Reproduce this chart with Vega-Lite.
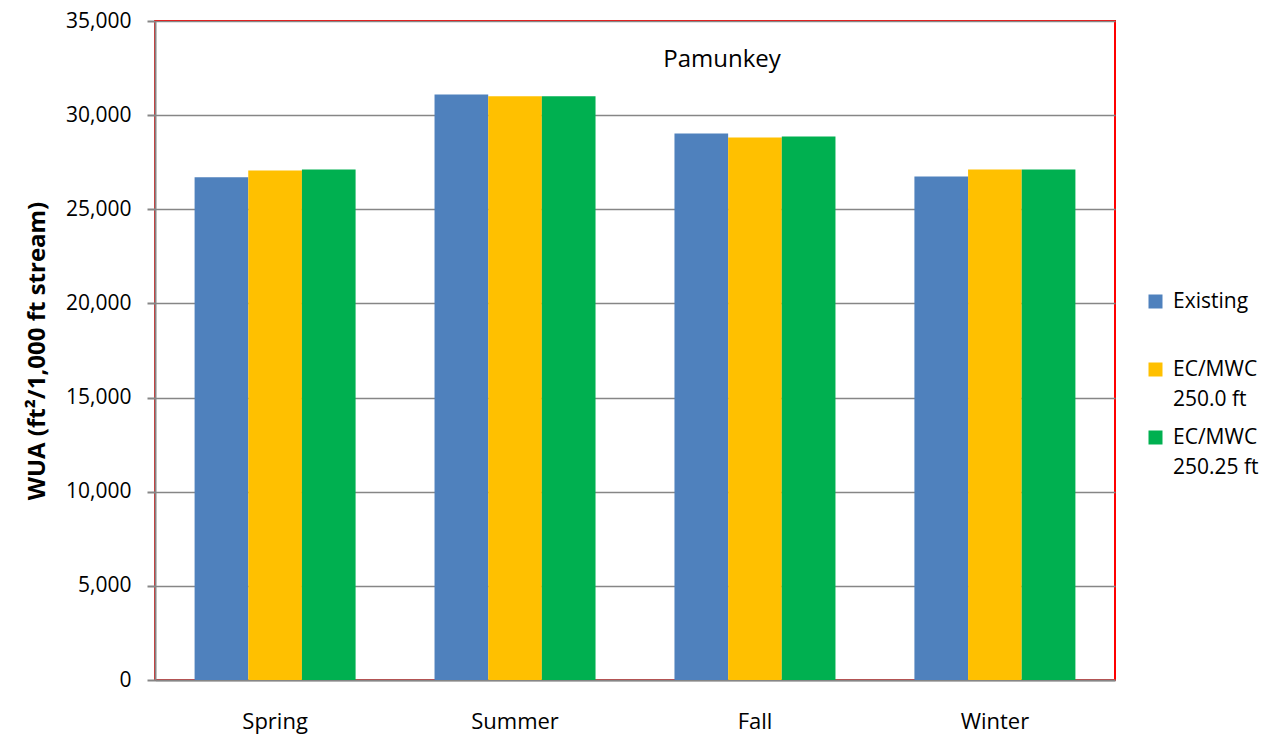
{
  "$schema": "https://vega.github.io/schema/vega-lite/v6.json",
  "width": 960,
  "height": 659,
  "autosize": {"type": "none"},
  "padding": {"left": 155, "top": 21, "right": 164, "bottom": 58},
  "background": "white",
  "title": {
    "text": "Pamunkey",
    "anchor": "middle",
    "dx": 87,
    "dy": 66,
    "font": "Open Sans",
    "fontSize": 24,
    "fontWeight": "normal",
    "color": "#000000"
  },
  "data": {
    "values": [
      {"season": "Spring", "scenario": "Existing", "wua": 26700},
      {"season": "Spring", "scenario": "EC/MWC|250.0 ft", "wua": 27060},
      {"season": "Spring", "scenario": "EC/MWC|250.25 ft", "wua": 27115},
      {"season": "Summer", "scenario": "Existing", "wua": 31100},
      {"season": "Summer", "scenario": "EC/MWC|250.0 ft", "wua": 31000},
      {"season": "Summer", "scenario": "EC/MWC|250.25 ft", "wua": 31000},
      {"season": "Fall", "scenario": "Existing", "wua": 29030},
      {"season": "Fall", "scenario": "EC/MWC|250.0 ft", "wua": 28815},
      {"season": "Fall", "scenario": "EC/MWC|250.25 ft", "wua": 28870},
      {"season": "Winter", "scenario": "Existing", "wua": 26745},
      {"season": "Winter", "scenario": "EC/MWC|250.0 ft", "wua": 27115},
      {"season": "Winter", "scenario": "EC/MWC|250.25 ft", "wua": 27115}
    ]
  },
  "mark": {"type": "bar"},
  "encoding": {
    "x": {
      "field": "season",
      "type": "nominal",
      "sort": ["Spring", "Summer", "Fall", "Winter"],
      "scale": {"paddingInner": 0.329, "paddingOuter": 0.165},
      "axis": {
        "title": null,
        "labelAngle": 0,
        "labelFont": "Open Sans",
        "labelFontSize": 22,
        "labelColor": "#000000",
        "labelPadding": 31,
        "ticks": false,
        "domainColor": "#868686",
        "domainWidth": 2,
        "grid": false
      }
    },
    "xOffset": {
      "field": "scenario",
      "type": "nominal",
      "sort": ["Existing", "EC/MWC|250.0 ft", "EC/MWC|250.25 ft"],
      "scale": {"paddingInner": 0, "paddingOuter": 0}
    },
    "y": {
      "field": "wua",
      "type": "quantitative",
      "scale": {"domain": [0, 35000], "nice": false},
      "axis": {
        "title": "WUA (ft²/1,000 ft stream)",
        "titleFont": "Open Sans",
        "titleFontSize": 24,
        "titleFontWeight": "bold",
        "titleColor": "#000000",
        "titlePadding": 16,
        "values": [0, 5000, 10000, 15000, 20000, 25000, 30000, 35000],
        "format": ",d",
        "labelFont": "Open Sans",
        "labelFontSize": 21,
        "labelColor": "#000000",
        "labelPadding": 16,
        "tickSize": 8,
        "tickColor": "#868686",
        "tickWidth": 2,
        "domainColor": "#868686",
        "domainWidth": 2,
        "grid": true,
        "gridColor": "#868686",
        "gridWidth": 1.5
      }
    },
    "color": {
      "field": "scenario",
      "type": "nominal",
      "sort": ["Existing", "EC/MWC|250.0 ft", "EC/MWC|250.25 ft"],
      "scale": {
        "domain": ["Existing", "EC/MWC|250.0 ft", "EC/MWC|250.25 ft"],
        "range": ["#4F81BD", "#FFC000", "#00B050"]
      },
      "legend": {
        "title": null,
        "orient": "none",
        "legendX": 990,
        "legendY": 270,
        "labelExpr": "datum.label == 'Existing' ? ['Existing', ' '] : split(datum.label, '|')",
        "labelFont": "Open Sans",
        "labelFontSize": 21,
        "labelColor": "#000000",
        "labelOffset": 7,
        "symbolType": "square",
        "symbolSize": 196,
        "symbolStrokeWidth": 0,
        "rowPadding": 16
      }
    }
  },
  "config": {
    "view": {"stroke": "#FF0000", "strokeWidth": 2},
    "style": {"guide-label": {"lineHeight": 30}}
  }
}
